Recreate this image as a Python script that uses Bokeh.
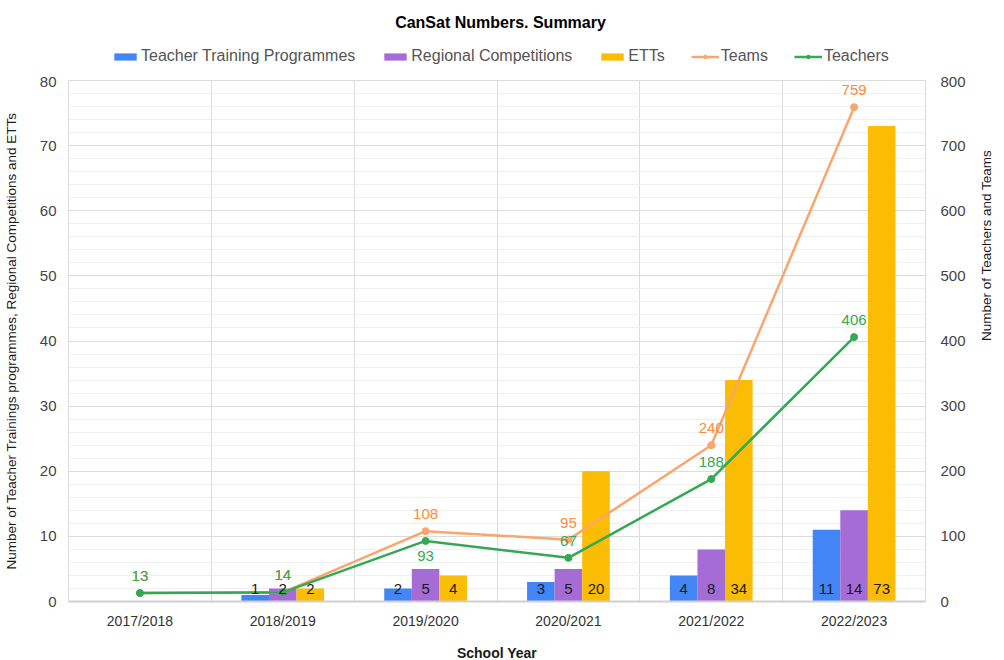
import math
import numpy as np
from bokeh.plotting import figure
from bokeh.layouts import column
from bokeh.models import (Range1d, LinearAxis, FixedTicker, SingleIntervalTicker, Legend, LegendItem,
                          LabelSet, Label, ColumnDataSource)
from bokeh.core.properties import value
from bokeh.embed import file_html
from bokeh.resources import INLINE

years = ["2017/2018", "2018/2019", "2019/2020", "2020/2021", "2021/2022", "2022/2023"]
training = [0, 1, 2, 3, 4, 11]
regional = [0, 2, 5, 5, 8, 14]
etts = [0, 2, 4, 20, 34, 73]
teams = [13, 14, 108, 95, 240, 759]
teachers = [13, 14, 93, 67, 188, 406]

FONT = "Liberation Sans"
C_BLUE, C_PURPLE, C_YELLOW = "#4285F4", "#A66CD5", "#FBBC04"
C_ORANGE, C_ORANGE_T, C_GREEN = "#FBA56E", "#FF8A3A", "#34A853"

W = 996
HH = 76
FW, FH = 857, 521
centers = np.arange(len(years)) + 0.5
bw = 0.193

# ---------- header (title + legend); legend proxies hold no drawable point ----------
h = figure(width=W, height=HH, x_range=Range1d(0, 6), y_range=Range1d(0, 1),
           output_backend="svg", toolbar_location=None,
           min_border_left=65, min_border_right=74, min_border_top=0, min_border_bottom=0)
h.title = None
h.axis.visible = False
h.grid.visible = False
h.outline_line_color = None

nan = [float("nan")]
items = []
for col, name in [(C_BLUE, "Teacher Training Programmes"), (C_PURPLE, "Regional Competitions"),
                  (C_YELLOW, "ETTs")]:
    r = h.vbar(x=nan, top=nan, width=bw, fill_color=col, line_color=None)
    items.append(LegendItem(label=name, renderers=[r]))
for col, name in [(C_ORANGE, "Teams"), (C_GREEN, "Teachers")]:
    l = h.line(x=nan, y=nan, line_color=col, line_width=2.5)
    s = h.scatter(x=nan, y=nan, size=6, fill_color=col, line_color=col)
    items.append(LegendItem(label=name, renderers=[l, s]))

legend = Legend(items=items, orientation="horizontal", location=(43, 11))
legend.label_text_font = FONT
legend.label_text_font_size = "16px"
legend.label_text_color = "#555555"
legend.glyph_width = 28
legend.glyph_height = 9
legend.label_standoff = 2
legend.spacing = 26
legend.border_line_color = None
legend.background_fill_alpha = 0
legend.padding = 2
legend.margin = 0
h.add_layout(legend, "center")
h.add_layout(Label(x=432, y=HH - 22, x_units="screen", y_units="screen",
                   text="CanSat Numbers. Summary", text_align="center", text_baseline="middle",
                   text_font=FONT, text_font_size="16px", text_font_style="bold",
                   text_color="#000000"))

# ---------- main chart ----------
p = figure(frame_width=FW, frame_height=FH, x_range=Range1d(0, 6), y_range=Range1d(0, 80),
           output_backend="svg", toolbar_location=None,
           min_border_left=65, min_border_right=74, min_border_bottom=59, min_border_top=4)
p.title = None
p.extra_y_ranges = {"right": Range1d(0, 800)}
p.outline_line_color = "#dcdcdc"
p.background_fill_color = "white"

for vals, col, off in [(training, C_BLUE, -bw), (regional, C_PURPLE, 0.0), (etts, C_YELLOW, bw)]:
    src = ColumnDataSource(dict(x=centers + off, top=vals,
                                lab=[str(v) if v > 0 else "" for v in vals]))
    p.vbar(x="x", top="top", width=bw, source=src, fill_color=col, line_color=None)
    p.add_layout(LabelSet(x="x", y=0, text="lab", source=src, text_align="center",
                          text_baseline="alphabetic", y_offset=8, text_font_size="15px",
                          text_font=value(FONT), text_color="#1a1a1a"))

line_offsets_teams = [12, 12, 12, 12, 12, 12]
line_offsets_teachers = [12, 12, -20, 12, 12, 12]
for vals, lcol, tcol, offs in [(teams, C_ORANGE, C_ORANGE_T, line_offsets_teams),
                               (teachers, C_GREEN, C_GREEN, line_offsets_teachers)]:
    src = ColumnDataSource(dict(x=centers, y=vals, lab=[str(v) for v in vals], yo=offs))
    p.line("x", "y", source=src, y_range_name="right", line_color=lcol, line_width=2.5)
    p.scatter("x", "y", source=src, y_range_name="right", size=7, fill_color=lcol, line_color=lcol)
    p.add_layout(LabelSet(x="x", y="y", text="lab", source=src, y_range_name="right",
                          text_align="center", text_baseline="alphabetic", y_offset="yo",
                          text_font_size="15px", text_font=value(FONT), text_color=tcol))

# axes
p.xaxis.ticker = FixedTicker(ticks=list(centers))
p.xaxis.major_label_overrides = {float(c): y for c, y in zip(centers, years)}
p.xaxis.axis_label = "School Year"
p.xaxis.axis_label_text_font = FONT
p.xaxis.axis_label_text_font_style = "bold"
p.xaxis.axis_label_text_font_size = "14px"
p.xaxis.axis_label_text_color = "#1a1a1a"
p.xaxis.axis_label_standoff = 13
p.xaxis.major_label_text_font = FONT
p.xaxis.major_label_text_font_size = "14px"
p.xaxis.major_label_text_color = "#333333"
p.xaxis.major_label_standoff = 11
p.xaxis.major_tick_line_color = None
p.xaxis.minor_tick_line_color = None
p.xaxis.major_tick_out = 0
p.xaxis.minor_tick_out = 0
p.xaxis.axis_line_color = "#cfcfcf"
p.xaxis.axis_line_width = 2

p.yaxis.ticker = SingleIntervalTicker(interval=10, num_minor_ticks=5)
p.yaxis.axis_label = "Number of Teacher Trainings programmes, Regional Competitions and ETTs"
p.yaxis.axis_label_text_font = FONT
p.yaxis.axis_label_text_font_style = "normal"
p.yaxis.axis_label_text_font_size = "13.5px"
p.yaxis.axis_label_text_color = "#1a1a1a"
p.yaxis.axis_label_standoff = 18
p.yaxis.major_label_text_font = FONT
p.yaxis.major_label_text_font_size = "15px"
p.yaxis.major_label_text_color = "#444444"
p.yaxis.major_label_standoff = 12
p.yaxis.major_tick_line_color = None
p.yaxis.minor_tick_line_color = None
p.yaxis.major_tick_out = 0
p.yaxis.minor_tick_out = 0
p.yaxis.axis_line_color = None

# right axis: ticks
ry = LinearAxis(y_range_name="right", ticker=SingleIntervalTicker(interval=100))
ry.major_label_text_font = FONT
ry.major_label_text_font_size = "15px"
ry.major_label_text_color = "#444444"
ry.major_label_standoff = 15
ry.major_tick_line_color = None
ry.minor_tick_line_color = None
ry.major_tick_out = 0
ry.minor_tick_out = 0
ry.axis_line_color = None
p.add_layout(ry, "right")

# right axis: title only
rt = LinearAxis(y_range_name="right", ticker=FixedTicker(ticks=[]), bounds=(0, 393),
                axis_label="Number of Teachers and Teams")
rt.axis_label_text_font = FONT
rt.axis_label_text_font_style = "normal"
rt.axis_label_text_font_size = "13.5px"
rt.axis_label_text_color = "#1a1a1a"
rt.axis_label_standoff = 18
rt.axis_label_orientation = math.pi / 2
rt.major_label_standoff = 0
rt.major_tick_line_color = None
rt.minor_tick_line_color = None
rt.major_tick_out = 0
rt.minor_tick_out = 0
rt.axis_line_color = None
p.add_layout(rt, "right")

# grids
p.xgrid.ticker = FixedTicker(ticks=list(range(len(years) + 1)))
p.xgrid.grid_line_color = "#dcdcdc"
p.ygrid.ticker = SingleIntervalTicker(interval=10, num_minor_ticks=5)
p.ygrid.grid_line_color = "#dcdcdc"
p.ygrid.minor_grid_line_color = "#efefef"

layout = column(h, p, spacing=0)
open("out.html", "w").write(file_html(layout, INLINE))
